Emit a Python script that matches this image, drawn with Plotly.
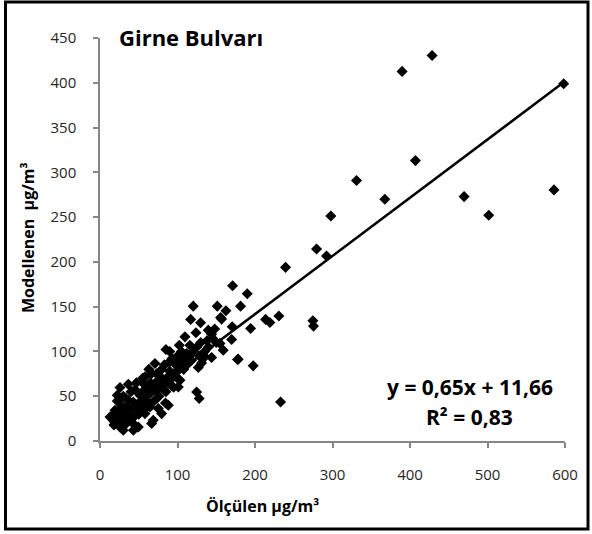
import plotly.graph_objects as go

olculen_hi = [428.5, 389.8, 598.3, 407, 367.5, 469.8, 501.6, 585.8, 331, 297.9,
              279.4, 292.3, 239.4, 171.1, 190, 181.4, 162.5, 156.9, 170.6, 194.3,
              213.7, 219.2, 230.8, 274.7, 275.5, 169.8, 159, 154.7, 178.3, 197.7, 233]
model_hi = [430.5, 412.7, 398.9, 313.1, 270, 272.9, 252, 280.4, 290.8, 251.3,
            214.4, 206.6, 193.9, 173.4, 164.4, 150.6, 145.4, 136.1, 127.5, 125.7,
            135.8, 132.4, 139.5, 134.2, 128.3, 113.4, 101.4, 109, 91.4, 83.9, 43.6]

olculen_mid = [120.3, 151.3, 117, 129.8, 155.6, 139.7, 123.8, 144, 177.5, 85.1,
               109.6, 102.3, 116, 111.8, 135.4, 144, 131.1, 126.8, 89.4, 70.9,
               79.5, 102.3, 103.2, 101, 91.1, 66.6, 58, 55.9, 36.5, 25.8,
               22.3, 22.3, 124.7, 128, 45.1, 51.6, 43, 47.3, 64.5, 73.1,
               84.5, 88.1, 64.5, 68.7, 58, 38.7, 49.4, 43, 30, 25.8,
               17.2, 12.9, 19.3, 30, 23.6, 35.2, 36.5, 51.6, 55.9, 75.2,
               79.5, 66.6]
model_mid = [150.6, 150.6, 135.8, 132, 138, 123.8, 120.8, 119.3, 91, 102.2,
             116.3, 107, 107, 97.7, 94, 93.2, 87.2, 82, 88.3, 86.5,
             79.8, 79.8, 67.9, 60.4, 68.7, 75.4, 71.6, 64.2, 63.4, 59.7,
             51.1, 44.7, 54.8, 47.4, 57.5, 51.1, 43.6, 36.2, 53, 47.4,
             42.5, 39.9, 38, 23.1, 30.6, 26.2, 15.7, 12, 12, 15.7,
             23.1, 26.8, 34.3, 30.6, 30.2, 38, 45.5, 42, 34.3, 36.2,
             30.6, 19.5]

olculen_low = [20, 22, 27, 32, 35, 40, 42, 45, 48, 50, 53, 55, 57, 60, 60, 62, 65, 68,
               70, 72, 75, 78, 80, 82, 85, 88, 90, 92, 95, 98, 100, 105, 108, 110, 112,
               115, 118, 120, 125, 130, 135, 138, 140, 145, 148, 150, 28, 33, 38, 25,
               62, 70, 76, 85, 95, 30, 18, 15, 40, 47, 55, 63, 73, 83, 93, 105, 128,
               100, 90]
model_low = [20, 28, 22, 18, 25, 30, 20, 28, 40, 30, 45, 55, 48, 45, 60, 52, 65, 58,
             62, 55, 68, 62, 70, 58, 65, 72, 78, 62, 75, 85, 70, 88, 80, 92, 85,
             95, 90, 100, 105, 110, 100, 112, 105, 115, 125, 110, 40, 48, 35, 35,
             40, 45, 50, 55, 60, 50, 18, 28, 55, 65, 70, 80, 75, 85, 92, 100, 95,
             95, 100]

olculen = olculen_hi + olculen_mid + olculen_low
modellenen = model_hi + model_mid + model_low

# trend line as printed on the chart
egim = 0.65
kesisim = 11.66

fig = go.Figure()

fig.add_scatter(x=olculen, y=modellenen, mode='markers',
                marker=dict(symbol='diamond', size=8.5, color='black'),
                cliponaxis=False, showlegend=False)

x_tr = [min(olculen), max(olculen)]
fig.add_scatter(x=x_tr, y=[egim * v + kesisim for v in x_tr], mode='lines',
                line=dict(color='black', width=2.5), showlegend=False)

axis_style = dict(showline=True, linecolor='#868686', linewidth=1.5,
                  ticks='outside', ticklen=5, tickcolor='#868686', tickwidth=1.5,
                  showgrid=False, zeroline=False,
                  tickfont=dict(family='Open Sans', size=15, color='#262626'))

fig.update_xaxes(range=[0, 600], dtick=100, ticklabelstandoff=14, **axis_style)
fig.update_yaxes(range=[0, 450], dtick=50, ticklabelstandoff=14, **axis_style)

W, H = 592, 534
ml, mr, mt, mb = 100, 27, 38, 93
pw, ph = W - ml - mr, H - mt - mb

def px(x):  # pixel -> paper x
    return (x - ml) / pw

def py(y):  # pixel -> paper y
    return (H - mb - y) / ph

bold = dict(family='Open Sans', color='black')

def label(text, x, y, size, anchor='center', angle=0):
    fig.add_annotation(text='<b>' + text + '</b>', x=px(x), y=py(y), xref='paper', yref='paper',
                       xanchor=anchor, yanchor='middle', textangle=angle, showarrow=False,
                       font=dict(size=size, **bold))

label('Girne Bulvarı', 117, 37.5, 22, anchor='left')
label('Ölçülen µg/m³', 262, 506, 16)
label('Modellenen  µg/m³', 28, 238, 16, angle=-90)
label('y = 0,65x + 11,66', 470, 387, 21)
label('R² = 0,83', 469, 417, 21)

# black frame around the chart area
fig.add_shape(type='rect', xref='paper', yref='paper',
              x0=px(5.5), x1=px(588), y0=py(529), y1=py(2),
              line=dict(color='black', width=3))

fig.update_layout(width=W, height=H, margin=dict(l=ml, r=mr, t=mt, b=mb),
                  plot_bgcolor='white', paper_bgcolor='white')

# page body has an 8px default margin, drop it so the figure fills the window
fig.write_html("out.html", config={'displayModeBar': False},
               post_script="document.body.style.margin='0';")
